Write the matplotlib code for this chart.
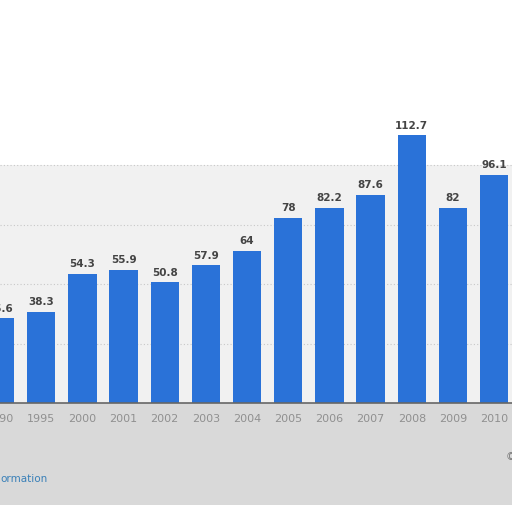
import matplotlib
matplotlib.use("Agg")
import matplotlib.pyplot as plt
from matplotlib.patches import Rectangle

years = ["1990", "1995", "2000", "2001", "2002", "2003", "2004", "2005",
         "2006", "2007", "2008", "2009", "2010"]
values = [35.6, 38.3, 54.3, 55.9, 50.8, 57.9, 64, 78, 82.2, 87.6, 112.7, 82, 96.1]
grid_values = [25, 50, 75, 100]

W = H = 512
fig = plt.figure(figsize=(5.12, 5.12), dpi=100)
fig.patch.set_facecolor("white")

def fy(px_from_top):
    return 1 - px_from_top / H

# background bands in an underlying axes
bg = fig.add_axes([0, 0, 1, 1], zorder=-1)
bg.set_xlim(0, 1)
bg.set_ylim(0, 1)
bg.axis("off")
bg.add_patch(Rectangle((0, fy(403)), 1, fy(165) - fy(403),
                       facecolor="#f1f1f1", edgecolor="none"))
bg.add_patch(Rectangle((0, fy(505)), 1, fy(403) - fy(505),
                       facecolor="#d9d9d9", edgecolor="none"))

ax = fig.add_axes([0, fy(403), 1, 1 - fy(403)], zorder=1)
ax.set_facecolor("none")
spacing = 41.3
x0 = -1.5
ax.set_xlim(-x0 / spacing, (W - x0) / spacing)
ppu = 129 / 54.3
ax.set_ylim(0, 403 / ppu)

xs = list(range(len(years)))
for g in grid_values:
    ax.axhline(g, color="#c8c8c8", lw=0.8, ls=(0, (1, 2)), zorder=1)
ax.bar(xs, values, width=0.69, color="#2a72d8", zorder=2)
for x, v in zip(xs, values):
    ax.text(x, v + 2, f"{v:g}", ha="center", va="bottom", fontsize=7.5,
            fontweight="bold", color="#444444", zorder=3)

for s in ["top", "right", "left"]:
    ax.spines[s].set_visible(False)
ax.spines["bottom"].set_color("#666666")
ax.spines["bottom"].set_linewidth(1.2)
ax.set_yticks([])
ax.set_xticks(xs)
ax.set_xticklabels(years, fontsize=8, color="#909090")
ax.tick_params(axis="x", length=0, pad=8)

fig.text(0.0, fy(479), "ormation", fontsize=7.5, color="#3a80b8", va="center", ha="left")
fig.text(506 / W, fy(457), "©", fontsize=7.5, color="#777777", va="center", ha="left")

fig.savefig("out.png", dpi=100)
